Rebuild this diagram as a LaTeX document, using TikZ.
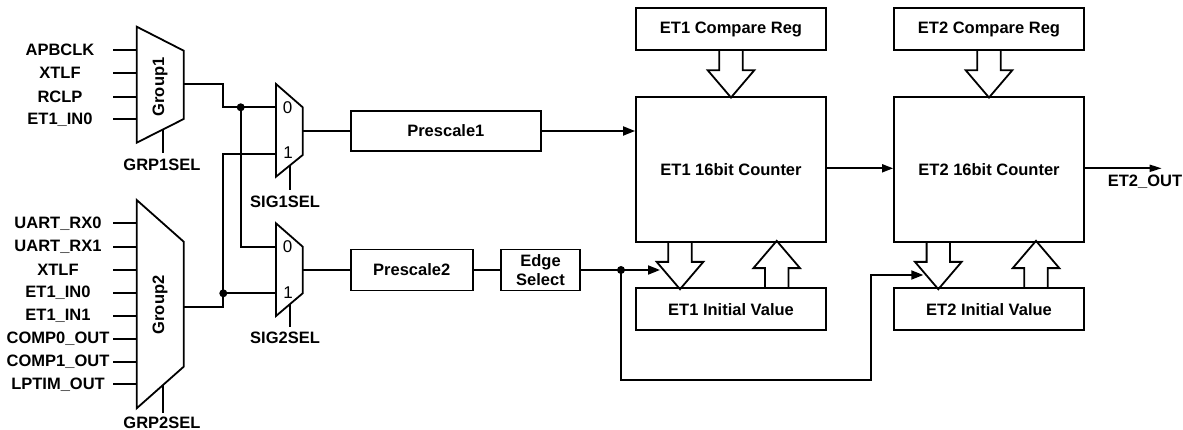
\documentclass[tikz,border=0pt]{standalone}
\usepackage{fontspec}
\setmainfont{Liberation Sans}
\usetikzlibrary{arrows.meta,calc}
\begin{document}
\begin{tikzpicture}[x=1pt,y=-1pt,line width=1.8pt,
  lbl/.style={font=\fontsize{16.5}{19}\selectfont\bfseries,inner sep=0pt},
  digit/.style={font=\fontsize{17}{19}\selectfont,inner sep=0pt},
  box/.style={draw,lbl,align=center},
  arr/.style={-{Triangle[length=12pt,width=9pt]}},
  dot/.style={circle,fill,inner sep=0pt,minimum size=8pt},
  hdown/.pic={\draw[line join=miter] (-11.7,0) -- (-11.7,19.3) -- (-23.3,19.3) -- (0,46.6) -- (23.3,19.3) -- (11.7,19.3) -- (11.7,0);}
]
\useasboundingbox (0,0) rectangle (1183,430);

% ---------- Group1 mux ----------
\draw[line join=miter] (136.7,26.7) -- (183.7,50.7) -- (183.7,119) -- (136.7,142.7) -- cycle;
\node[lbl,rotate=90] (g1) at (160,87) {Group1};
\coordinate (g1out) at (183.7,84.3);
\foreach \t/\y/\n in {APBCLK/50/a,XTLF/72.7/b,RCLP/96.7/c,ET1\_IN0/119.3/d}{
  \node[lbl] (g1\n) at (60,\y) {\t};
  \coordinate (g1p\n) at (136.7,\y);
  \draw (113,\y) -- (g1p\n);
}
\coordinate (g1s) at (163.3,129.3);
\node[lbl] (grp1sel) at (162,165) {GRP1SEL};
\draw (g1s) -- (163.3,153);

% ---------- Group2 mux ----------
\draw[line join=miter] (136.7,200) -- (183.7,241.7) -- (183.7,366.7) -- (136.7,408.3) -- cycle;
\node[lbl,rotate=90] (g2) at (160,305) {Group2};
\coordinate (g2out) at (183.7,306.7);
\foreach \t/\y/\n in {UART\_RX0/223.3/a,UART\_RX1/246.7/b,XTLF/270/c,ET1\_IN0/292.7/d,ET1\_IN1/315.7/e,COMP0\_OUT/339/f,COMP1\_OUT/361.7/g,LPTIM\_OUT/384.3/h}{
  \node[lbl] (g2\n) at (58,\y) {\t};
  \coordinate (g2p\n) at (136.7,\y);
  \draw (113,\y) -- (g2p\n);
}
\coordinate (g2s) at (163.3,384.8);
\node[lbl] (grp2sel) at (162,422.5) {GRP2SEL};
\draw (g2s) -- (163.3,413);

% ---------- SIG1SEL mux ----------
\draw[line join=miter] (276,84) -- (302.7,107.3) -- (302.7,155) -- (276,176.7) -- cycle;
\coordinate (m1in0) at (276,107.3);
\coordinate (m1in1) at (276,154);
\coordinate (m1out) at (302.7,131);
\node[digit] (m1z) at (287.5,107.5) {0};
\node[digit] (m1o) at (288,153) {1};
\draw (290,165.3) -- (290,190);
\node[lbl] (sig1sel) at (285,201.7) {SIG1SEL};

% ---------- SIG2SEL mux ----------
\draw[line join=miter] (276,223.3) -- (302.7,246.7) -- (302.7,293.3) -- (276,316) -- cycle;
\coordinate (m2in0) at (276,246.7);
\coordinate (m2in1) at (276,293.3);
\coordinate (m2out) at (302.7,270);
\node[digit] (m2z) at (287.5,247) {0};
\node[digit] (m2o) at (288,292.5) {1};
\draw (290,304.1) -- (290,326.7);
\node[lbl] (sig2sel) at (285,338.3) {SIG2SEL};

% ---------- mux wiring ----------
\node[dot] (d1) at (240.7,107.3) {};
\node[dot] (d2) at (223.3,293.3) {};
\draw (g1out) -- (223.3,84.3) -- (223.3,107.3) -- (m1in0);
\draw (d1.center) -- (240.7,246.7) -- (m2in0);
\draw (g2out) -- (223.3,306.7) -- (d2.center) -- (223.3,154) -- (m1in1);
\draw (d2.center) -- (m2in1);

% ---------- boxes ----------
\node[box,minimum width=190.3pt,minimum height=40pt] (p1) at (445.85,131) {Prescale1};
\node[box,minimum width=122pt,minimum height=41pt] (p2) at (411.7,270) {Prescale2};
\node[box,minimum width=79pt,minimum height=41pt] (es) at (540.5,270) {Edge\\Select};

\node[box,minimum width=190pt,minimum height=41.7pt] (cr1) at (731,29.2) {ET1 Compare Reg};
\node[box,minimum width=190pt,minimum height=145pt] (c1) at (731,169.2) {ET1 16bit Counter};
\node[box,minimum width=190pt,minimum height=41.7pt] (iv1) at (731,309.2) {ET1 Initial Value};

\node[box,minimum width=190pt,minimum height=41.7pt] (cr2) at (989,29.2) {ET2 Compare Reg};
\node[box,minimum width=190pt,minimum height=145pt] (c2) at (989,169.2) {ET2 16bit Counter};
\node[box,minimum width=190pt,minimum height=41.7pt] (iv2) at (989,309.2) {ET2 Initial Value};

% ---------- hollow arrows ----------
\pic at (cr1.south) {hdown};
\pic at ($(c1.south)+(-51,0)$) {hdown};
\pic[rotate=180] at ($(iv1.north)+(45.7,0)$) {hdown};
\pic at (cr2.south) {hdown};
\pic at ($(c2.south)+(-50.7,0)$) {hdown};
\pic[rotate=180] at ($(iv2.north)+(47,0)$) {hdown};

% ---------- signal path ----------
\draw (m1out) -- (p1.west |- m1out);
\draw[arr] (p1.east) -- (p1.east -| c1.west);
\draw (m2out) -- (p2.west);
\draw (p2.east) -- (es.west);
\node[dot] (d3) at (621,270) {};
\coordinate (t1) at (660,270);
\draw[arr] (es.east) -- (t1);
\coordinate (t2) at (923.3,275);
\draw[arr] (d3.center) -- (621,380) -- (871,380) -- (871,275) -- (t2);
\draw[-{Triangle[length=11pt,width=8pt]}] (c1.east |- 0,168.3) -- (c2.west |- 0,168.3);
\coordinate (et2o) at (1161.7,168.3);
\draw[-{Triangle[length=12pt,width=7pt]}] (c2.east |- 0,168.3) -- (et2o);
\node[lbl] (et2out) at (1145,181.7) {ET2\_OUT};
\end{tikzpicture}
\end{document}
